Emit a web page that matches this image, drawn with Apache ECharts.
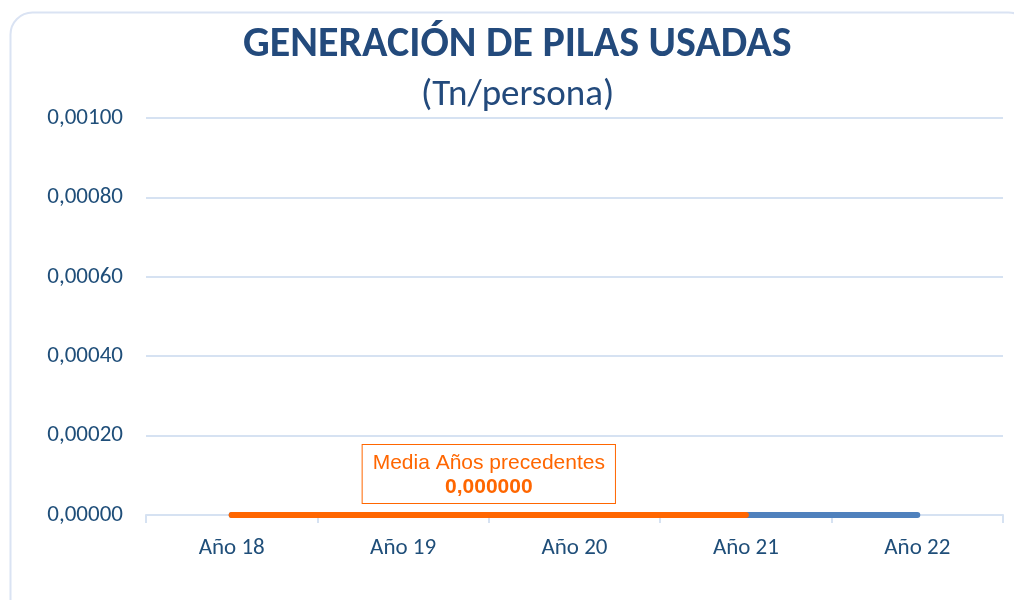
<!DOCTYPE html>
<html>
<head>
<meta charset="utf-8">
<script src="https://cdn.jsdelivr.net/npm/echarts@6/dist/echarts.min.js"></script>
<style>
  html, body { margin: 0; padding: 0; background: #fff; }
  #chart { width: 1014px; height: 600px; }
</style>
</head>
<body>
<div id="chart"></div>
<script>
var categories = ['Año 18', 'Año 19', 'Año 20', 'Año 21', 'Año 22'];
var generacion = [0, 0, 0, 0, 0];           // Tn/persona
var mediaPrecedentes = [0, 0, 0, 0, null];  // media años precedentes
var mediaValor = [0];
var yTicks = [0, 0.0002, 0.0004, 0.0006, 0.0008, 0.001];

var fontMain = 'Carlito, "Open Sans", sans-serif';
var azul = '#1f4e79';

var chart = echarts.init(document.getElementById('chart'));

function fmt(v, d) {
    return v.toFixed(d).replace('.', ',');
}

var option = {
    backgroundColor: '#fff',
    animation: false,
    graphic: [{
        type: 'rect',
        left: 8, top: 10,
        shape: {width: 1020, height: 620, r: 22},
        style: {fill: 'none', stroke: '#dae3f3', lineWidth: 2},
        z: -10
    }],
    title: [{
        text: 'GENERACIÓN DE PILAS USADAS',
        left: 238,
        top: 19,
        textStyle: {fontFamily: fontMain, fontSize: 42, fontWeight: 'bold', color: '#234a7c'}
    }, {
        text: '(Tn/persona)',
        left: 416,
        top: 72,
        textStyle: {fontFamily: fontMain, fontSize: 37, fontWeight: 'normal', color: '#234a7c'}
    }],
    grid: {left: 146, right: 11, top: 118, bottom: 85},
    xAxis: {
        type: 'category',
        data: categories,
        boundaryGap: true,
        axisLine: {lineStyle: {color: '#d6e2f2', width: 2}},
        axisTick: {show: true, length: 8, lineStyle: {color: '#d6e2f2', width: 2}},
        axisLabel: {fontFamily: fontMain, fontSize: 23, color: azul, margin: 22}
    },
    yAxis: {
        type: 'value',
        min: yTicks[0],
        max: yTicks[yTicks.length - 1],
        interval: yTicks[1] - yTicks[0],
        axisLine: {show: false},
        axisTick: {show: false},
        splitLine: {lineStyle: {color: '#d6e2f2', width: 2}},
        axisLabel: {
            fontFamily: fontMain, fontSize: 23, color: azul, margin: 23,
            formatter: function (v) { return fmt(v, 5); }
        }
    },
    series: [{
        name: 'Generación',
        type: 'line',
        data: generacion,
        symbol: 'none',
        lineStyle: {color: '#4f81bd', width: 6, cap: 'round'},
        z: 2
    }, {
        name: 'Media años precedentes',
        type: 'line',
        data: mediaPrecedentes,
        symbol: 'none',
        lineStyle: {color: '#ff6600', width: 6, cap: 'round'},
        z: 3,
        markLine: {
            silent: true,
            symbol: 'none',
            lineStyle: {color: 'rgba(0,0,0,0)', width: 1, type: 'solid'},
            label: {
                show: true,
                position: 'middle',
                distance: 12,
                formatter: '{a|Media Años precedentes}\n{b|' + fmt(mediaValor[0], 6) + '}',
                backgroundColor: '#fff',
                borderColor: '#ff6600',
                borderWidth: 1,
                padding: [6, 10, 4, 10],
                rich: {
                    a: {fontFamily: 'Liberation Sans, Arial', fontSize: 21, color: '#ff6600', lineHeight: 24, align: 'center'},
                    b: {fontFamily: 'Liberation Sans, Arial', fontSize: 21, fontWeight: 'bold', color: '#ff6600', lineHeight: 24, align: 'center'}
                }
            },
            data: [[
                {coord: [categories[0], mediaValor[0]]},
                {coord: [categories[3], mediaValor[0]]}
            ]]
        }
    }]
};

chart.setOption(option);
</script>
</body>
</html>
